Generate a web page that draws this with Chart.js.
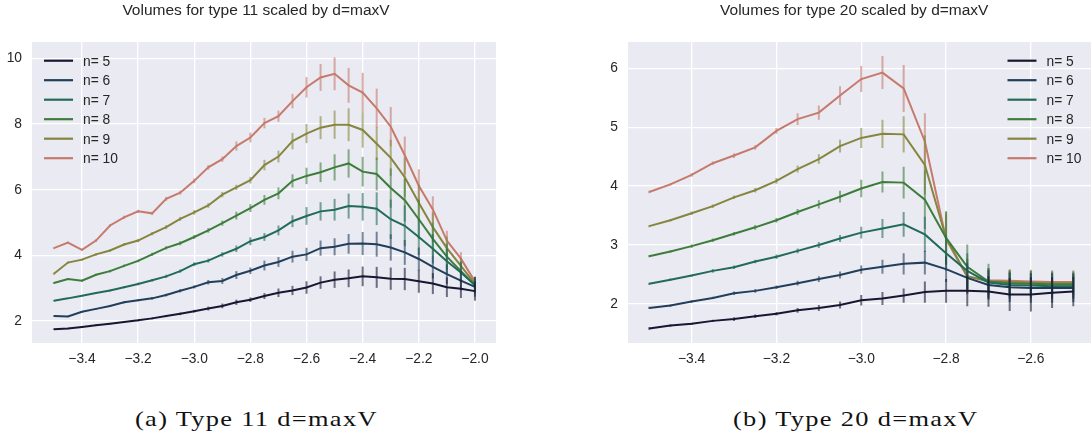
<!DOCTYPE html>
<html>
<head>
<meta charset="utf-8">
<script src="https://cdn.jsdelivr.net/npm/chart.js@4.4.1/dist/chart.umd.min.js"></script>
<style>
  html, body { margin: 0; padding: 0; background: #fff; overflow: hidden; width: 1091px; height: 438px; }
  canvas { position: absolute; top: 0; }
  #chart-11 { left: 0; }
  #chart-20 { left: 545px; }
  .caption { position: absolute; top: 407px; font-family: "Liberation Serif", "DejaVu Serif", serif;
             font-size: 22px; line-height: 24px; letter-spacing: 1.1px; color: #111; white-space: nowrap;
             transform-origin: 0 0; }
</style>
</head>
<body>
<canvas id="chart-11" width="545" height="370"></canvas>
<canvas id="chart-20" width="560" height="370"></canvas>
<div class="caption" style="left:256px">(a) Type 11 d=maxV</div>
<div class="caption" style="left:856px">(b) Type 20 d=maxV</div>
<script>
const series_labels = ["n= 5", "n= 6", "n= 7", "n= 8", "n= 9", "n= 10"];
const series_colours = ["#161730", "#213e5a", "#216b58", "#3d7d3b", "#868540", "#c67a6c"];

// type 11
const x_11 = [-3.5, -3.45, -3.4, -3.35, -3.3, -3.25, -3.2, -3.15, -3.1, -3.05, -3.0, -2.95, -2.9, -2.85, -2.8, -2.75,
              -2.7, -2.65, -2.6, -2.55, -2.5, -2.45, -2.4, -2.35, -2.3, -2.25, -2.2, -2.15, -2.1, -2.05, -2.0];
const n5_11  = [1.75, 1.77, 1.82, 1.87, 1.92, 1.97, 2.02, 2.08, 2.15, 2.22, 2.30, 2.38, 2.46, 2.57, 2.65, 2.76,
                2.86, 2.93, 3.02, 3.17, 3.26, 3.30, 3.36, 3.33, 3.29, 3.28, 3.21, 3.14, 3.03, 2.98, 2.91];
const n6_11  = [2.15, 2.14, 2.28, 2.37, 2.46, 2.57, 2.63, 2.69, 2.79, 2.92, 3.04, 3.18, 3.22, 3.40, 3.53, 3.69,
                3.80, 3.96, 4.03, 4.22, 4.26, 4.35, 4.36, 4.34, 4.24, 4.09, 3.89, 3.65, 3.43, 3.23, 3.04];
const n7_11  = [2.62, 2.69, 2.77, 2.85, 2.93, 3.03, 3.13, 3.24, 3.36, 3.52, 3.73, 3.84, 4.03, 4.20, 4.43, 4.56,
                4.76, 5.04, 5.20, 5.34, 5.39, 5.50, 5.48, 5.42, 5.10, 4.90, 4.56, 4.20, 3.82, 3.48, 3.10];
const n8_11  = [3.16, 3.28, 3.23, 3.41, 3.52, 3.68, 3.83, 4.03, 4.23, 4.37, 4.56, 4.76, 4.98, 5.21, 5.44, 5.69,
                5.89, 6.27, 6.42, 6.53, 6.68, 6.80, 6.55, 6.48, 6.05, 5.68, 5.10, 4.50, 3.96, 3.52, 3.08];
const n9_11  = [3.44, 3.78, 3.87, 4.03, 4.15, 4.33, 4.45, 4.66, 4.86, 5.11, 5.31, 5.52, 5.85, 6.07, 6.29, 6.75,
                7.01, 7.48, 7.71, 7.89, 7.98, 7.98, 7.82, 7.40, 6.97, 6.38, 5.60, 4.86, 4.22, 3.68, 3.13];
const n10_11 = [4.22, 4.39, 4.17, 4.45, 4.91, 5.16, 5.34, 5.28, 5.72, 5.91, 6.27, 6.68, 6.93, 7.33, 7.59, 8.03,
                8.24, 8.70, 9.12, 9.42, 9.53, 9.18, 8.96, 8.48, 7.92, 7.05, 6.12, 5.40, 4.45, 3.90, 3.20];
// error bar half lengths
const e5_11  = [0.02, 0.02, 0.02, 0.02, 0.02, 0.02, 0.03, 0.03, 0.03, 0.04, 0.04, 0.06, 0.07, 0.08, 0.07, 0.09,
                0.13, 0.14, 0.19, 0.19, 0.25, 0.27, 0.30, 0.32, 0.34, 0.34, 0.35, 0.32, 0.30, 0.28, 0.29];
const e6_11  = [0.02, 0.02, 0.02, 0.03, 0.03, 0.03, 0.03, 0.04, 0.04, 0.05, 0.05, 0.07, 0.09, 0.12, 0.10, 0.15,
                0.15, 0.18, 0.20, 0.23, 0.26, 0.30, 0.35, 0.38, 0.40, 0.38, 0.35, 0.35, 0.30, 0.30, 0.30];
const e7_11  = [0.02, 0.02, 0.02, 0.03, 0.03, 0.03, 0.04, 0.04, 0.05, 0.05, 0.06, 0.06, 0.07, 0.10, 0.12, 0.12,
                0.15, 0.18, 0.27, 0.28, 0.33, 0.38, 0.42, 0.50, 0.60, 0.62, 0.55, 0.45, 0.38, 0.30, 0.25];
const e8_11  = [0.03, 0.03, 0.03, 0.03, 0.04, 0.04, 0.04, 0.05, 0.05, 0.06, 0.06, 0.07, 0.08, 0.12, 0.12, 0.15,
                0.18, 0.20, 0.25, 0.30, 0.40, 0.43, 0.45, 0.50, 0.60, 0.65, 0.60, 0.50, 0.40, 0.30, 0.20];
const e9_11  = [0.03, 0.03, 0.03, 0.04, 0.04, 0.04, 0.05, 0.05, 0.06, 0.06, 0.07, 0.07, 0.08, 0.08, 0.10, 0.16,
                0.18, 0.25, 0.29, 0.35, 0.43, 0.50, 0.54, 0.50, 0.55, 0.60, 0.55, 0.45, 0.35, 0.25, 0.20];
const e10_11 = [0.03, 0.03, 0.03, 0.04, 0.04, 0.05, 0.05, 0.05, 0.06, 0.06, 0.07, 0.07, 0.08, 0.14, 0.15, 0.16,
                0.17, 0.22, 0.31, 0.41, 0.50, 0.53, 0.60, 0.60, 0.60, 0.57, 0.50, 0.40, 0.30, 0.20, 0.15];
const xticks_11 = [-3.4, -3.2, -3.0, -2.8, -2.6, -2.4, -2.2, -2.0];
const yticks_11 = [2, 4, 6, 8, 10];

// type 20
const x_20 = [-3.5, -3.45, -3.4, -3.35, -3.3, -3.25, -3.2, -3.15, -3.1, -3.05, -3.0, -2.95, -2.9, -2.85, -2.8,
              -2.75, -2.7, -2.65, -2.6, -2.55, -2.5];
const n5_20  = [1.58, 1.63, 1.66, 1.71, 1.74, 1.79, 1.83, 1.89, 1.93, 1.98, 2.06, 2.09, 2.14, 2.20, 2.22,
                2.22, 2.21, 2.16, 2.16, 2.19, 2.21];
const n6_20  = [1.93, 1.97, 2.04, 2.10, 2.18, 2.22, 2.28, 2.35, 2.42, 2.49, 2.58, 2.63, 2.68, 2.70, 2.59,
                2.44, 2.32, 2.28, 2.27, 2.27, 2.27];
const n7_20  = [2.34, 2.41, 2.48, 2.56, 2.62, 2.72, 2.80, 2.90, 3.00, 3.11, 3.21, 3.28, 3.35, 3.18, 2.86,
                2.56, 2.36, 2.32, 2.31, 2.30, 2.30];
const n8_20  = [2.81, 2.89, 2.98, 3.08, 3.19, 3.30, 3.42, 3.56, 3.69, 3.82, 3.96, 4.07, 4.06, 3.77, 3.12,
                2.63, 2.38, 2.35, 2.34, 2.33, 2.33];
const n9_20  = [3.32, 3.42, 3.54, 3.66, 3.81, 3.93, 4.09, 4.29, 4.46, 4.68, 4.82, 4.89, 4.88, 4.36, 3.12,
                2.47, 2.38, 2.37, 2.36, 2.35, 2.35];
const n10_20 = [3.90, 4.03, 4.19, 4.39, 4.52, 4.66, 4.94, 5.14, 5.25, 5.54, 5.82, 5.93, 5.66, 4.76, 3.10,
                2.46, 2.40, 2.39, 2.38, 2.37, 2.37];
const e5_20  = [0.02, 0.02, 0.02, 0.02, 0.03, 0.03, 0.03, 0.04, 0.05, 0.06, 0.09, 0.11, 0.12, 0.18, 0.20,
                0.26, 0.26, 0.28, 0.29, 0.26, 0.25];
const e6_20  = [0.02, 0.02, 0.02, 0.02, 0.03, 0.03, 0.03, 0.04, 0.05, 0.06, 0.07, 0.12, 0.18, 0.20, 0.22,
                0.25, 0.25, 0.25, 0.25, 0.25, 0.24];
const e7_20  = [0.02, 0.02, 0.02, 0.03, 0.03, 0.03, 0.04, 0.04, 0.05, 0.06, 0.10, 0.16, 0.21, 0.30, 0.30,
                0.30, 0.25, 0.23, 0.22, 0.22, 0.22];
const e8_20  = [0.02, 0.02, 0.03, 0.03, 0.03, 0.04, 0.04, 0.05, 0.07, 0.10, 0.15, 0.18, 0.27, 0.50, 0.45,
                0.38, 0.30, 0.22, 0.22, 0.22, 0.22];
const e9_20  = [0.02, 0.02, 0.03, 0.03, 0.03, 0.04, 0.05, 0.06, 0.08, 0.11, 0.17, 0.24, 0.31, 0.50, 0.45,
                0.30, 0.22, 0.20, 0.20, 0.20, 0.20];
const e10_20 = [0.02, 0.02, 0.03, 0.03, 0.04, 0.04, 0.05, 0.10, 0.12, 0.16, 0.22, 0.28, 0.40, 0.48, 0.42,
                0.30, 0.20, 0.20, 0.20, 0.20, 0.20];
const xticks_20 = [-3.4, -3.2, -3.0, -2.8, -2.6];
const yticks_20 = [2, 3, 4, 5, 6];

const FONT = '"Liberation Sans", Arial, sans-serif';
const TEXT_COLOUR = "#262626";

// grey panel behind the lines (seaborn darkgrid look)
const panelBackground = {
  id: "panelBackground",
  beforeDraw(chart) {
    const a = chart.chartArea;
    chart.ctx.save();
    chart.ctx.fillStyle = "#eaeaf2";
    chart.ctx.fillRect(a.left, a.top, a.right - a.left, a.bottom - a.top);
    chart.ctx.restore();
  }
};

// vertical error bars, drawn through the chart scales
const errorBars = {
  id: "errorBars",
  afterDatasetDraw(chart, args) {
    const ds = chart.data.datasets[args.index];
    if (!ds.errors) return;
    const ctx = chart.ctx;
    const xs = chart.scales.x, ys = chart.scales.y;
    const a = chart.chartArea;
    ctx.save();
    ctx.beginPath();
    ctx.rect(a.left, a.top, a.right - a.left, a.bottom - a.top);
    ctx.clip();
    ctx.strokeStyle = ds.borderColor;
    ctx.globalAlpha = 0.6;
    ctx.lineWidth = 2;
    ds.data.forEach((p, i) => {
      const px = xs.getPixelForValue(p.x);
      ctx.beginPath();
      ctx.moveTo(px, ys.getPixelForValue(p.y - ds.errors[i]));
      ctx.lineTo(px, ys.getPixelForValue(p.y + ds.errors[i]));
      ctx.stroke();
    });
    ctx.restore();
  }
};

// title above the panel + legend inside it
const titleAndLegend = {
  id: "titleAndLegend",
  afterDraw(chart, args, opts) {
    const ctx = chart.ctx;
    const a = chart.chartArea;
    ctx.save();
    ctx.fillStyle = TEXT_COLOUR;
    ctx.font = "15.5px " + FONT;
    ctx.textAlign = "center";
    ctx.textBaseline = "alphabetic";
    ctx.fillText(opts.title, (a.left + a.right) / 2 + opts.titleShift, 15);

    const x0 = opts.legendSide === "left" ? a.left + 12 : a.right - 87;
    ctx.font = "13.8px " + FONT;
    ctx.textAlign = "left";
    ctx.textBaseline = "middle";
    chart.data.datasets.forEach((ds, i) => {
      const y = a.top + 18.7 + i * 19.5;
      ctx.strokeStyle = ds.borderColor;
      ctx.lineWidth = 2.2;
      ctx.beginPath();
      ctx.moveTo(x0, y);
      ctx.lineTo(x0 + 29, y);
      ctx.stroke();
      ctx.fillStyle = TEXT_COLOUR;
      ctx.fillText(ds.label, x0 + 39, y + 1);
    });
    ctx.restore();
  }
};

function makeDatasets(xs, values, errors) {
  return values.map((vals, k) => ({
    label: series_labels[k],
    data: vals.map((v, i) => ({ x: xs[i], y: v })),
    errors: errors[k],
    borderColor: series_colours[k],
    backgroundColor: series_colours[k],
    borderWidth: 2,
    pointRadius: 0,
    tension: 0,
    fill: false
  }));
}

function createPanel({ canvas_id, xs, values, errors, x_min, x_max, y_min, y_max, x_ticks, y_ticks,
                       y_axis_width, pad_right, title, title_shift, legend_side }) {
  const ctx = document.getElementById(canvas_id).getContext("2d");
  return new Chart(ctx, {
    type: "line",
    data: { datasets: makeDatasets(xs, values, errors) },
    options: {
      responsive: false,
      animation: false,
      layout: { padding: { top: 42, right: pad_right, bottom: 0, left: 0 } },
      scales: {
        x: {
          type: "linear",
          min: x_min,
          max: x_max,
          afterBuildTicks: (axis) => { axis.ticks = x_ticks.map(v => ({ value: v })); },
          afterFit: (axis) => { axis.height = 27; },
          grid: { color: "#ffffff", lineWidth: 1.3, drawTicks: false },
          border: { display: false },
          ticks: {
            padding: 8,
            color: TEXT_COLOUR,
            font: { family: FONT, size: 13.8 },
            maxRotation: 0,
            autoSkip: false,
            callback: (v) => v.toFixed(1).replace("-", "\u2212")
          }
        },
        y: {
          type: "linear",
          min: y_min,
          max: y_max,
          afterBuildTicks: (axis) => { axis.ticks = y_ticks.map(v => ({ value: v })); },
          afterFit: (axis) => { axis.width = y_axis_width; },
          grid: { color: "#ffffff", lineWidth: 1.3, drawTicks: false },
          border: { display: false },
          ticks: {
            padding: 10,
            color: TEXT_COLOUR,
            font: { family: FONT, size: 13.8 },
            autoSkip: false,
            callback: (v) => String(v)
          }
        }
      },
      plugins: {
        legend: { display: false },
        tooltip: { enabled: false },
        titleAndLegend: { title: title, titleShift: title_shift, legendSide: legend_side }
      }
    },
    plugins: [panelBackground, errorBars, titleAndLegend]
  });
}

createPanel({
  canvas_id: "chart-11",
  xs: x_11,
  values: [n5_11, n6_11, n7_11, n8_11, n9_11, n10_11],
  errors: [e5_11, e6_11, e7_11, e8_11, e9_11, e10_11],
  x_min: -3.578, x_max: -1.925, y_min: 1.33, y_max: 10.5,
  x_ticks: xticks_11, y_ticks: yticks_11,
  y_axis_width: 32, pad_right: 49,
  title: "Volumes for type 11 scaled by d=maxV", title_shift: -8,
  legend_side: "left"
});

createPanel({
  canvas_id: "chart-20",
  xs: x_20,
  values: [n5_20, n6_20, n7_20, n8_20, n9_20, n10_20],
  errors: [e5_20, e6_20, e7_20, e8_20, e9_20, e10_20],
  x_min: -3.55, x_max: -2.45, y_min: 1.334, y_max: 6.45,
  x_ticks: xticks_20, y_ticks: yticks_20,
  y_axis_width: 83, pad_right: 10.5,
  title: "Volumes for type 20 scaled by d=maxV", title_shift: -7,
  legend_side: "right"
});

// widen the captions a little (Computer Modern is wider than Times) and centre them
const CAPTION_STRETCH = 1.2;
document.querySelectorAll(".caption").forEach(el => {
  const w = el.getBoundingClientRect().width * CAPTION_STRETCH;
  el.style.transform = "scaleX(" + CAPTION_STRETCH + ")";
  el.style.marginLeft = (-w / 2) + "px";
});
</script>
</body>
</html>
